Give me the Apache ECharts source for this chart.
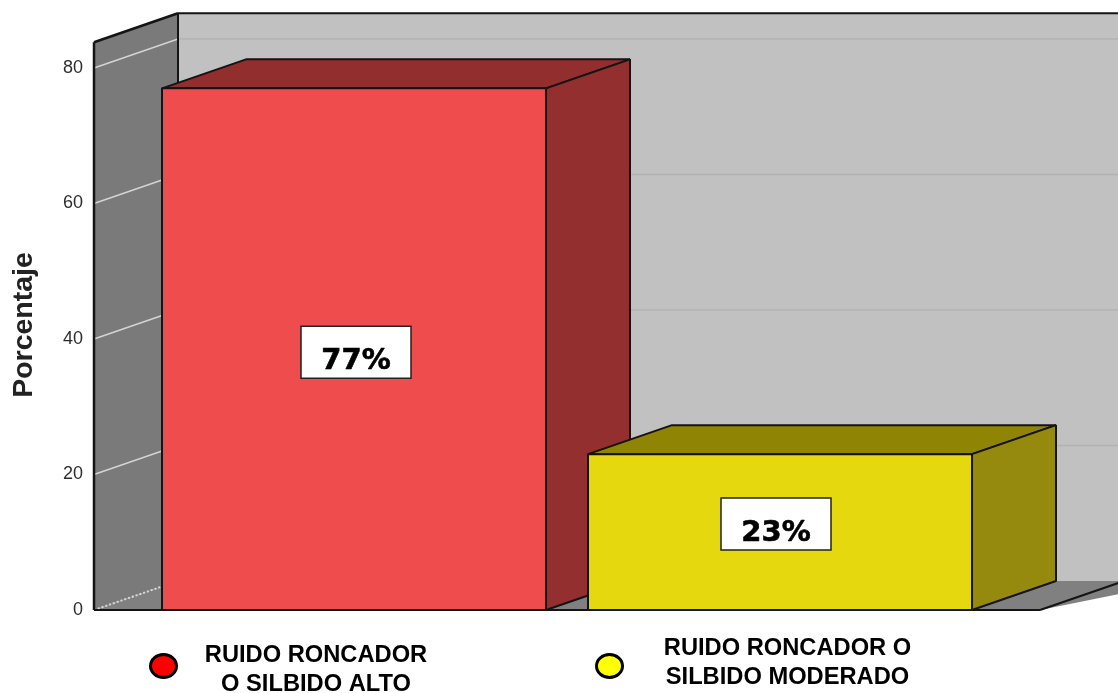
<!DOCTYPE html>
<html>
<head>
<meta charset="utf-8">
<style>html,body{margin:0;padding:0;background:#fff}#c{width:1118px;height:693px}</style>
<script src="https://cdn.jsdelivr.net/npm/echarts@6/dist/echarts.min.js"></script>
</head>
<body>
<div id="c"></div>
<script>
const categories = ["RUIDO RONCADOR\nO SILBIDO ALTO", "RUIDO RONCADOR O\nSILBIDO MODERADO"];
const values = [77, 23];
const valueLabels = ["77%", "23%"];
const yTicks = [0, 20, 40, 60, 80];
const yAxisTitle = "Porcentaje";

// styling and 3D projection (pixels)
const frontColors = ["#ef4c4e", "#e5d80f"];
const sideColors = ["#932f2f", "#958a0e"];
const topColors = ["#932e2e", "#8f8404"];
const legendColors = ["#ff0000", "#ffff00"];
const legendMarkerX = [163, 609];
const legendTextX = [316, 787.5];
const legendTextY = [669.5, 662.5];
const labelShift = [[2, 3], [-4, -8]];
const DX = 84, DY = 29, WALL_LEFT = 47, BAR_RATIO = 0.9014, FLOOR_END = 1040, WALL_TOP = 83.8;
const INK = "#141414";

const chart = echarts.init(document.getElementById("c"), null, {renderer: "canvas"});

function poly(points, fill, stroke, lw, z2) {
  return {type: "polygon", z2: z2 || 0, shape: {points},
    style: {fill: fill, stroke: stroke || null, lineWidth: lw || 0, lineJoin: "bevel"}};
}
function seg(a, b, color, lw, dash) {
  return {type: "line", shape: {x1: a[0], y1: a[1], x2: b[0], y2: b[1]},
    style: {stroke: color, lineWidth: lw, lineDash: dash || null, fill: null}};
}

function renderWalls(params, api) {
  const sys = params.coordSys;
  const x0 = sys.x - WALL_LEFT;
  const y0 = api.coord([0, 0])[1];
  const yTop = api.coord([0, WALL_TOP])[1];
  const right = sys.x + sys.width + 200;
  const kids = [];
  kids.push(poly([[x0 + DX, yTop - DY], [right, yTop - DY], [right, y0 - DY], [x0 + DX, y0 - DY]], "#c1c1c1"));
  kids.push(poly([[x0, y0], [x0 + DX, y0 - DY], [right, y0 - DY], [FLOOR_END + DX + 60, y0 - DY], [FLOOR_END, y0]], "#808080"));
  kids.push(poly([[x0, y0], [x0, yTop], [x0 + DX, yTop - DY], [x0 + DX, y0 - DY]], "#7a7a7a"));
  yTicks.forEach(t => {
    const y = api.coord([0, t])[1];
    if (t === 0) {
      kids.push(seg([x0, y], [x0 + DX, y - DY], "#d8d8d8", 2, [2, 2]));
    } else {
      kids.push(seg([x0 + DX, y - DY], [right, y - DY], "#b2b2b2", 1.5));
      kids.push(seg([x0, y], [x0 + DX, y - DY], "#d4d4d4", 1.5));
    }
  });
  kids.push(seg([x0, y0], [x0, yTop], INK, 2.5));
  kids.push(seg([x0, yTop], [x0 + DX, yTop - DY], INK, 2.5));
  kids.push(seg([x0 + DX, yTop - DY], [right, yTop - DY], INK, 2));
  kids.push(seg([x0 + DX, yTop - DY], [x0 + DX, y0 - DY], INK, 2));
  kids.push(seg([x0, y0], [FLOOR_END, y0], INK, 2));
  kids.push(seg([FLOOR_END, y0], [FLOOR_END + DX, y0 - DY], INK, 2));
  return {type: "group", children: kids};
}

function renderBar(params, api) {
  const i = params.dataIndex;
  const c = api.coord([api.value(0), api.value(1)]);
  const base = api.coord([api.value(0), 0])[1];
  const w = api.size([1, 0])[0] * BAR_RATIO;
  const l = c[0] - w / 2, r = c[0] + w / 2, t = c[1];
  const cy = (t + base) / 2 + labelShift[i][1];
  const cx = c[0] + labelShift[i][0];
  return {type: "group", children: [
    poly([[l, t], [l + DX, t - DY], [r + DX, t - DY], [r, t]], topColors[i], INK, 2),
    poly([[r, t], [r + DX, t - DY], [r + DX, base - DY], [r, base]], sideColors[i], INK, 2),
    poly([[l, t], [r, t], [r, base], [l, base]], frontColors[i], INK, 2),
    {type: "rect", shape: {x: cx - 55, y: cy - 26, width: 110, height: 52},
      style: {fill: "#fff", stroke: "#222", lineWidth: 1.5}},
    {type: "text", style: {x: cx, y: cy + 9, text: valueLabels[i], align: "center", verticalAlign: "middle",
      font: 'bold 29px "DejaVu Sans"', fill: "#000", stroke: "#000", lineWidth: 0.6}}
  ]};
}

const legendGraphics = [];
categories.forEach((name, i) => {
  legendGraphics.push({type: "ellipse", left: legendMarkerX[i] - 14, top: 653,
    shape: {cx: 14, cy: 13, rx: 13, ry: 11.5},
    style: {fill: legendColors[i], stroke: "#000", lineWidth: 3}});
  legendGraphics.push({type: "text", x: legendTextX[i], y: legendTextY[i],
    style: {text: name, align: "center", verticalAlign: "middle", lineHeight: 29,
      font: 'bold 23.7px "Liberation Sans"', fill: "#000"}});
});

chart.setOption({
  animation: false,
  backgroundColor: "#fff",
  grid: {left: 141, right: 125, top: 68, bottom: 83},
  xAxis: {type: "category", data: categories, show: false},
  yAxis: {
    type: "value", min: 0, max: 80, interval: 20, offset: 47,
    name: yAxisTitle, nameLocation: "middle", nameGap: 55, nameRotate: 90,
    nameTextStyle: {fontFamily: "Liberation Sans", fontWeight: "bold", fontSize: 28.5, color: "#222", padding: [0, 0, 0, 28]},
    axisLine: {show: false}, axisTick: {show: false}, splitLine: {show: false},
    axisLabel: {margin: 11, fontFamily: "Liberation Sans", fontSize: 18, color: "#2e2e2e", padding: [4, 0, 0, 0]}
  },
  series: [
    {type: "custom", name: "walls", renderItem: renderWalls, data: [[0, 0]], z: 1, silent: true, clip: false},
    {type: "custom", name: "bars", renderItem: renderBar, z: 2, silent: true, clip: false,
      data: values.map((v, i) => [i, v])}
  ],
  graphic: legendGraphics
});
</script>
</body>
</html>
